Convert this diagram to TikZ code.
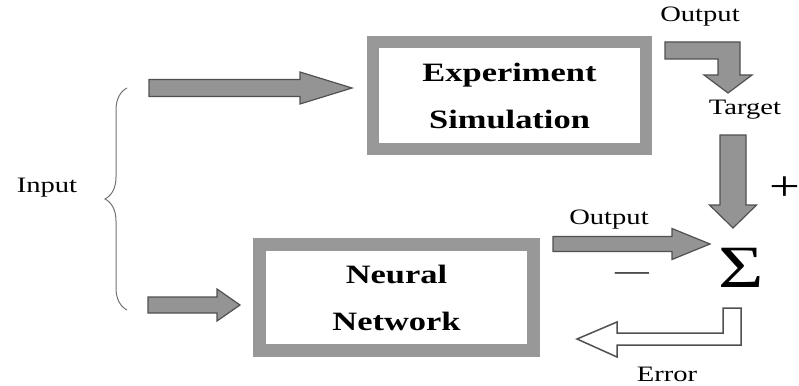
\documentclass[tikz,border=0pt]{standalone}
\usepackage{fontspec}
\setmainfont{Liberation Serif}[FakeStretch=1.3]
\usetikzlibrary{calc,decorations.pathreplacing}

\definecolor{cajagris}{RGB}{152,152,152}
\definecolor{flechagris}{RGB}{148,148,148}
\definecolor{bordegris}{RGB}{80,80,80}

\tikzset{
  caja/.style={draw=cajagris, line width=12pt, minimum width=273pt, minimum height=107pt,
    align=center, font=\fontsize{26.5}{47}\selectfont\bfseries},
  flecha/.style={fill=flechagris, draw=bordegris, line width=1.2pt},
  hueca/.style={fill=white, draw=bordegris, line width=1.5pt},
  etiqueta/.style={font=\fontsize{22}{26}\selectfont, inner sep=1pt},
}

% Flecha horizontal: inicio, punta, medio cuerpo, media cabeza, largo cabeza
\newcommand{\flechah}[5]{%
  \draw[flecha] let \p1=(#1), \p2=(#2) in
    (\x1,\y1-#3) -- (\x2-#5,\y1-#3) -- (\x2-#5,\y1-#4) -- (\x2,\y1)
    -- (\x2-#5,\y1+#4) -- (\x2-#5,\y1+#3) -- (\x1,\y1+#3) -- cycle;}
% Flecha vertical hacia abajo: inicio, punta, medio cuerpo, media cabeza, largo cabeza
\newcommand{\flechav}[5]{%
  \draw[flecha] let \p1=(#1), \p2=(#2) in
    (\x1-#3,\y1) -- (\x1-#3,\y2+#5) -- (\x1-#4,\y2+#5) -- (\x1,\y2)
    -- (\x1+#4,\y2+#5) -- (\x1+#3,\y2+#5) -- (\x1+#3,\y1) -- cycle;}

\begin{document}
\begin{tikzpicture}[x=1pt, y=-1pt]
  \useasboundingbox (0,0) rectangle (799,385);

  % Caja del experimento
  \node[caja] (exp) at (509.5,95.5) {Experiment\\Simulation};

  % Caja de la red neuronal
  \node[caja, line width=13pt, minimum width=274pt, minimum height=106pt] (red) at (396.5,297.5) {Neural\\Network};

  % Llave y etiqueta de la entrada
  \draw[bordegris!80, line width=1pt, decorate, decoration={brace, amplitude=22pt}] (127,310) -- (127,88);
  \node[etiqueta] (entrada) at (47,188) {Input};

  % Flechas de entrada
  \coordinate (e1) at (149,88);
  \coordinate (e1p) at ([xshift=-15pt, yshift=7.5pt]exp.west);
  \flechah{e1}{e1p}{8.5pt}{16pt}{52pt}
  \coordinate (e2) at (148,305);
  \coordinate (e2p) at ([xshift=-13pt, yshift=-7.5pt]red.west);
  \flechah{e2}{e2p}{8pt}{16pt}{23pt}

  % Salida del experimento hacia el objetivo
  \node[etiqueta] (salida1) at (700,17) {Output};
  \coordinate (s1) at (665,42);
  \coordinate (s1p) at (728,93);
  \draw[flecha] (s1) -- ++(75,0) -- ++(0,33) -- ++(12,0) -- (s1p) -- ++(-24,-18)
    -- ++(14,0) -- ++(0,-16) -- ++(-53,0) -- cycle;
  \node[etiqueta] (objetivo) at (745,110) {Target};

  % Sumador
  \node[font=\fontsize{60}{62}\selectfont, inner sep=0pt] (suma) at (741,268) {Σ};
  \coordinate (o1) at (733,135);
  \coordinate (o1p) at (733,228);
  \flechav{o1}{o1p}{13pt}{23.5pt}{23pt}
  \node[font=\fontsize{42}{44}\selectfont, inner sep=0pt] (mas) at (785,189) {+};

  % Salida de la red
  \node[etiqueta] (salida2) at (609,220) {Output};
  \coordinate (s2) at (553,244);
  \coordinate (s2p) at (710,244);
  \flechah{s2}{s2p}{7.5pt}{15.5pt}{38pt}
  \node[font=\fontsize{26}{28}\selectfont] (menos) at (632,276) {—};

  % Error hacia la red
  \coordinate (err) at (723,308);
  \coordinate (errp) at (577,339);
  \draw[hueca] (err) -- ++(18,0) -- ++(0,37) -- ++(-124,0) -- ++(0,12) -- (errp)
    -- ++(40,-17) -- ++(0,11) -- ++(106,0) -- cycle;
  \node[etiqueta] (error) at (667,374) {Error};
\end{tikzpicture}
\end{document}
